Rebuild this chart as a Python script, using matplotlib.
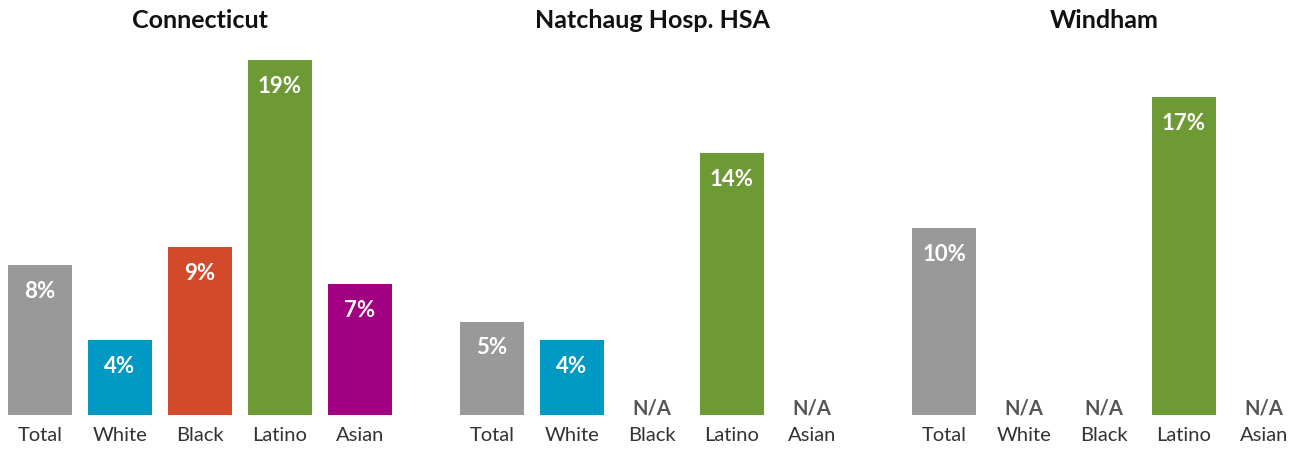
import matplotlib.pyplot as plt

plt.rcParams['font.family'] = ['Lato', 'DejaVu Sans']

regions = ['Connecticut', 'Natchaug Hosp. HSA', 'Windham']
groups = ['Total', 'White', 'Black', 'Latino', 'Asian']
colors = ['#999999', '#0099C4', '#D24A2A', '#6E9A35', '#A20082']

# percent values per region, None = not available
ct = [8, 4, 9, 19, 7]
natchaug = [5, 4, None, 14, None]
windham = [10, None, None, 17, None]
values = [ct, natchaug, windham]

W, H = 1300, 451
fig = plt.figure(figsize=(W / 100, H / 100), dpi=100)

base = 415          # baseline in px from top
ax_h = 380          # axes height px
px_per_pct = 18.7
lefts = [0, 452, 904]

for left, name, vals in zip(lefts, regions, values):
    ax = fig.add_axes([left / W, (H - base) / H, 400 / W, ax_h / H])
    ax.set_xlim(-0.5, 4.5)
    ax.set_ylim(0, ax_h / px_per_pct)
    ax.axis('off')
    for i, (g, v) in enumerate(zip(groups, vals)):
        if v is None:
            ax.annotate('N/A', (i, 0), xytext=(0, 4.5), textcoords='offset points',
                        ha='center', va='center', fontsize=14.5, fontweight='bold',
                        color='#555555')
        else:
            ax.bar(i, v, width=0.8, color=colors[i])
            ax.annotate(f'{v}%', (i, v), xytext=(0, -19), textcoords='offset points',
                        ha='center', va='center', fontsize=16, fontweight='bold',
                        color='white')
        ax.annotate(g, (i, 0), xytext=(0, -15), textcoords='offset points',
                    ha='center', va='center', fontsize=14.5, color='#333333')
    fig.text((left + 200) / W, 1 - 20 / H, name, ha='center', va='center',
             fontsize=18, fontweight='bold', color='#111111')

fig.savefig('out.png', dpi=100)
